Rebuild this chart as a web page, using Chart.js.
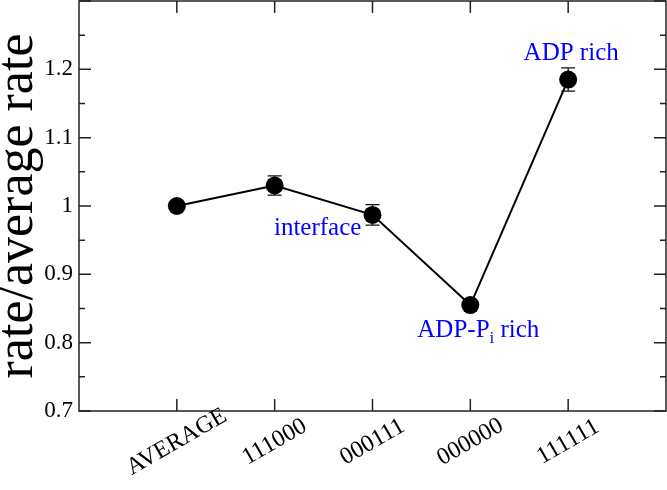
<!DOCTYPE html>
<html lang="en">
<head>
<meta charset="UTF-8">
<title>rate/average rate</title>
<script src="https://cdn.jsdelivr.net/npm/chart.js"></script>
<style>
  html, body { margin: 0; padding: 0; background: #fff; }
  #wrap { width: 667px; height: 490px; }
</style>
</head>
<body>
<div id="wrap"><canvas id="rateChart" width="667" height="490"></canvas></div>
<script>
// data
const categories = ['AVERAGE', '111000', '000111', '000000', '111111'];
const rates = [1.0, 1.03, 0.987, 0.855, 1.185];
const rateErrors = [0, 0.014, 0.015, 0.006, 0.017];
const yTicks = [0.7, 0.8, 0.9, 1, 1.1, 1.2];
const noteTexts = ['interface', 'ADP-P_i rich', 'ADP rich'];
const notePoints = [1, 3, 4];

// where the blue notes sit relative to their point (px)
const noteOffsets = [[43, 43], [8, 25], [3, -26]];

const serif = 'Liberation Serif';

const errorBars = {
    id: 'errorBars',
    beforeDatasetsDraw(chart) {
        const { ctx, scales: { x, y } } = chart;
        ctx.save();
        ctx.strokeStyle = '#111';
        ctx.lineWidth = 1.3;
        rates.forEach((v, i) => {
            const e = rateErrors[i];
            if (!e) return;
            const px = x.getPixelForValue(i);
            const top = y.getPixelForValue(v + e);
            const bot = y.getPixelForValue(v - e);
            ctx.beginPath();
            ctx.moveTo(px, top); ctx.lineTo(px, bot);
            ctx.moveTo(px - 7, top); ctx.lineTo(px + 7, top);
            ctx.moveTo(px - 7, bot); ctx.lineTo(px + 7, bot);
            ctx.stroke();
        });
        ctx.restore();
    }
};

const frame = {
    id: 'frame',
    afterDraw(chart) {
        const { ctx, chartArea: a, scales: { x, y } } = chart;
        ctx.save();
        ctx.strokeStyle = '#222';
        ctx.lineWidth = 1.5;
        ctx.strokeRect(a.left, a.top, a.right - a.left, a.bottom - a.top);

        // y ticks, inside, on both sides
        ctx.beginPath();
        const marks = [];
        yTicks.forEach(v => { marks.push([v, 12]); marks.push([v + 0.05, 6]); });
        marks.push([1.3, 12]);
        marks.forEach(([v, len]) => {
            const py = y.getPixelForValue(v);
            ctx.moveTo(a.left, py); ctx.lineTo(a.left + len, py);
            ctx.moveTo(a.right, py); ctx.lineTo(a.right - len, py);
        });
        // category ticks, bottom and top
        categories.forEach((c, i) => {
            const px = x.getPixelForValue(i);
            ctx.moveTo(px, a.bottom); ctx.lineTo(px, a.bottom - 12);
            ctx.moveTo(px, a.top); ctx.lineTo(px, a.top + 12);
        });
        ctx.stroke();

        // rotated category labels
        ctx.fillStyle = '#000';
        ctx.font = '24px "' + serif + '"';
        ctx.textAlign = 'center';
        ctx.textBaseline = 'middle';
        categories.forEach((c, i) => {
            const px = x.getPixelForValue(i);
            ctx.save();
            ctx.translate(px, a.bottom + 31);
            ctx.rotate(-Math.PI / 6);
            ctx.fillText(c, 0, 0);
            ctx.restore();
        });

        // blue notes
        ctx.fillStyle = '#0000ff';
        ctx.textBaseline = 'middle';
        noteTexts.forEach((t, k) => {
            const i = notePoints[k];
            const cx = x.getPixelForValue(i) + noteOffsets[k][0];
            const cy = y.getPixelForValue(rates[i]) + noteOffsets[k][1];
            const parts = t.split(/_(\w)/);
            const big = '25px "' + serif + '"';
            const small = '17px "' + serif + '"';
            let w = 0;
            parts.forEach((p, j) => { ctx.font = j % 2 ? small : big; w += ctx.measureText(p).width; });
            let cur = cx - w / 2;
            ctx.textAlign = 'left';
            parts.forEach((p, j) => {
                ctx.font = j % 2 ? small : big;
                ctx.fillText(p, cur, j % 2 ? cy + 8 : cy);
                cur += ctx.measureText(p).width;
            });
        });
        ctx.restore();
    }
};

new Chart(document.getElementById('rateChart'), {
    type: 'line',
    data: {
        datasets: [{
            data: rates.map((v, i) => ({ x: i, y: v })),
            borderColor: '#000',
            borderWidth: 2,
            backgroundColor: '#000',
            pointRadius: 9,
            pointBackgroundColor: '#000',
            pointBorderWidth: 0,
            tension: 0,
            clip: false
        }]
    },
    options: {
        responsive: false,
        animation: false,
        layout: { autoPadding: false, padding: { top: 1, right: 1, left: 0, bottom: 0 } },
        plugins: { legend: { display: false }, tooltip: { enabled: false } },
        scales: {
            x: {
                type: 'linear',
                min: -1,
                max: 5,
                grid: { display: false },
                border: { display: false },
                ticks: { display: false },
                afterFit(s) {
                    s.height = 79;
                    s.paddingLeft = 0; s.paddingRight = 0;
                }
            },
            y: {
                min: 0.7,
                max: 1.3,
                grid: { display: false, drawTicks: false },
                border: { display: false },
                afterBuildTicks(s) { s.ticks = yTicks.map(v => ({ value: v })); },
                ticks: {
                    color: '#000',
                    padding: 6,
                    font: { family: serif, size: 23 },
                    callback: v => String(+v.toFixed(2))
                },
                title: {
                    display: true,
                    text: 'rate/average rate',
                    color: '#000',
                    font: { family: serif, size: 52, lineHeight: 0.7 },
                    padding: { top: 0, bottom: 0 }
                },
                afterFit(s) {
                    s.width = 79;
                    s.paddingTop = 0; s.paddingBottom = 0;
                }
            }
        }
    },
    plugins: [errorBars, frame]
});
</script>
</body>
</html>
